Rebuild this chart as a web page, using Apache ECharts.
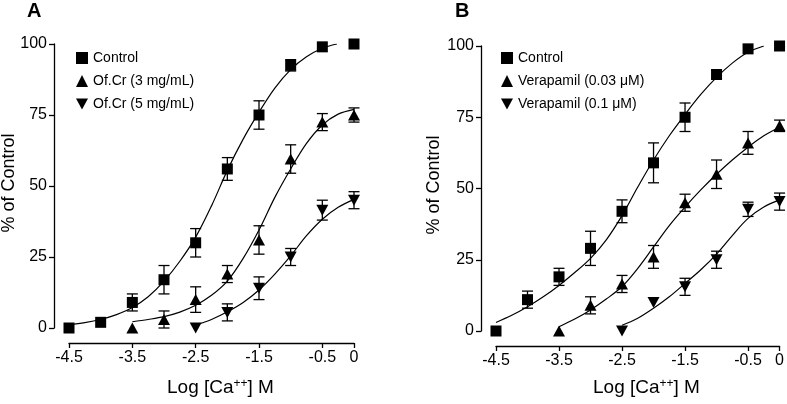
<!DOCTYPE html>
<html>
<head>
<meta charset="utf-8">
<script src="https://cdn.jsdelivr.net/npm/echarts@6/dist/echarts.min.js"></script>
<style>
html,body{margin:0;padding:0;background:#fff;}
#chart{width:787px;height:404px;}
</style>
</head>
<body>
<div id="chart"></div>
<script>
// ---------- data ----------
var xTickLabels = [-4.5, -3.5, -2.5, -1.5, -0.5, 0];
var yTickLabels = [0, 25, 50, 75, 100];

// Panel A
var namesA = ['Control', 'Of.Cr (3 mg/mL)', 'Of.Cr (5 mg/mL)'];
var ctrlAX = [-4.5, -4, -3.5, -3, -2.5, -2, -1.5, -1, -0.5, 0];
var ctrlAY = [0, 2, 9, 17, 30, 56, 75, 92.5, 99, 100];
var ctrlAErr = [0, 0, 3, 5, 5, 4, 5, 2, 0, 0];
var triAX = [-3.5, -3, -2.5, -2, -1.5, -1, -0.5, 0];
var triAY = [0, 3, 10, 19, 31, 59.5, 72.5, 75];
var triAErr = [0, 3, 4.5, 3, 5, 5, 3, 2.5];
var invAX = [-2.5, -2, -1.5, -1, -0.5, 0];
var invAY = [0, 5.5, 14, 25, 41.5, 45];
var invAErr = [0, 3, 4, 3, 3.5, 3];

var ctrlAFitX = [-4.5, -4.25, -4, -3.75, -3.5, -3.25, -3, -2.75, -2.5, -2.25, -2, -1.75, -1.5, -1.25, -1, -0.75, -0.5, -0.27];
var ctrlAFitY = [1.2, 1.9, 3.0, 4.7, 7.2, 11, 16.5, 23.5, 32, 43, 55.5, 66.5, 76, 84.5, 91, 95.5, 98.5, 100];
var triAFitX = [-3.5, -3.25, -3, -2.75, -2.5, -2.25, -2, -1.75, -1.5, -1.25, -1, -0.75, -0.5, -0.25, 0];
var triAFitY = [2.2, 3.0, 4.0, 5.6, 8.0, 11.5, 16.5, 24.5, 34.5, 46, 56, 65, 71.5, 75.3, 77];
var invAFitX = [-2.5, -2.25, -2, -1.75, -1.5, -1.25, -1, -0.75, -0.5, -0.25, 0];
var invAFitY = [1.0, 3, 5.7, 9, 13.4, 19, 25.4, 32.5, 38.3, 42.5, 45.3];

// Panel B
var namesB = ['Control', 'Verapamil (0.03 \u03bcM)', 'Verapamil (0.1 \u03bcM)'];
var ctrlBX = [-4.5, -4, -3.5, -3, -2.5, -2, -1.5, -1, -0.5, 0];
var ctrlBY = [0, 11, 19, 29, 42, 59, 75, 90, 99, 100];
var ctrlBErr = [0, 3, 3, 6, 4, 7, 5, 1.5, 0, 0];
var triBX = [-3.5, -3, -2.5, -2, -1.5, -1, -0.5, 0];
var triBY = [0, 9, 16.5, 26, 45, 55, 66, 72];
var triBErr = [0, 3, 3, 4, 3, 5, 4, 2];
var invBX = [-2.5, -2, -1.5, -1, -0.5, 0];
var invBY = [0, 10, 15.5, 25, 42.7, 45.4];
var invBErr = [0, 0, 3, 3, 2.5, 3];

var ctrlBFitX = [-4.5, -4.25, -4, -3.75, -3.5, -3.25, -3, -2.75, -2.5, -2.25, -2, -1.75, -1.5, -1.25, -1, -0.75, -0.5, -0.25];
var ctrlBFitY = [3, 5.5, 8.5, 12, 16, 20.5, 25.5, 32, 40.5, 50.5, 60, 68.5, 76, 83, 89, 94, 97.8, 100];
var triBFitX = [-3.5, -3.25, -3, -2.75, -2.5, -2.25, -2, -1.75, -1.5, -1.25, -1, -0.75, -0.5, -0.25, 0];
var triBFitY = [1.5, 4.2, 7.4, 11.2, 15.6, 22, 29.5, 37, 43.5, 49.5, 55, 60, 64.5, 68.5, 71.5];
var invBFitX = [-2.5, -2.25, -2, -1.75, -1.5, -1.25, -1, -0.75, -0.5, -0.25, 0];
var invBFitY = [2.0, 4.5, 8, 12, 16.7, 21.5, 27, 33.5, 39.5, 43.5, 46];

// ---------- helpers ----------
var FONT = "'Liberation Sans', Arial, Helvetica, sans-serif";
var INV_TRI = 'path://M0,0L20,0L10,18Z';
function pairs(xs, ys) { return xs.map(function (x, i) { return [x, ys[i]]; }); }
function triples(xs, ys, es) { return xs.map(function (x, i) { return [x, ys[i], es[i]]; }); }

function errRender(params, api) {
  var x = api.value(0), y = api.value(1), e = api.value(2);
  if (!e) return null;
  var t = api.coord([x, y + e]), b = api.coord([x, y - e]);
  var hw = 5.5, st = { stroke: '#000', lineWidth: 1.3 };
  return { type: 'group', children: [
    { type: 'line', shape: { x1: t[0], y1: t[1], x2: b[0], y2: b[1] }, style: st },
    { type: 'line', shape: { x1: t[0] - hw, y1: t[1], x2: t[0] + hw, y2: t[1] }, style: st },
    { type: 'line', shape: { x1: b[0] - hw, y1: b[1], x2: b[0] + hw, y2: b[1] }, style: st }
  ] };
}

function scatter(name, idx, xs, ys, symbol, size) {
  return { type: 'scatter', name: name, xAxisIndex: idx, yAxisIndex: idx, data: pairs(xs, ys),
    symbol: symbol, symbolSize: size, itemStyle: { color: '#000', opacity: 1 }, z: 5, silent: true };
}
function errs(idx, xs, ys, es) {
  return { type: 'custom', xAxisIndex: idx, yAxisIndex: idx, data: triples(xs, ys, es),
    encode: { x: 0, y: 1 }, renderItem: errRender, z: 4, silent: true };
}
function fit(idx, xs, ys) {
  return { type: 'line', xAxisIndex: idx, yAxisIndex: idx, data: pairs(xs, ys), smooth: 0.35,
    symbol: 'none', lineStyle: { color: '#000', width: 1.2 }, z: 3, silent: true };
}

function xAxisCfg(idx) {
  return { type: 'value', gridIndex: idx, min: -4.5, max: 0, offset: 15, position: 'bottom',
    axisLine: { show: true, onZero: false, lineStyle: { color: '#000', width: 1.3 } },
    axisTick: { show: true, length: 5, customValues: xTickLabels, lineStyle: { color: '#000', width: 1.3 } },
    axisLabel: { customValues: xTickLabels, color: '#000', fontSize: 16, fontFamily: FONT, margin: 7 },
    splitLine: { show: false } };
}
function yAxisCfg(idx) {
  return { type: 'value', gridIndex: idx, min: 0, max: 100, interval: 25, offset: 15, position: 'left',
    axisLine: { show: true, onZero: false, lineStyle: { color: '#000', width: 1.3 } },
    axisTick: { show: true, length: 5, lineStyle: { color: '#000', width: 1.3 } },
    axisLabel: { color: '#000', fontSize: 16, fontFamily: FONT, margin: 7 },
    splitLine: { show: false } };
}
function legendCfg(names, left) {
  return { data: names, orient: 'vertical', left: left, top: 46, itemWidth: 12, itemHeight: 12,
    itemGap: 9, selectedMode: false,
    textStyle: { fontSize: 14, color: '#000', fontFamily: FONT } };
}
function xTitle(cx) {
  return { type: 'text', left: cx - 55, top: 378, style: {
    text: 'Log [Ca{sup|++}] M', fontSize: 19, fontFamily: FONT, fill: '#000',
    rich: { sup: { fontSize: 12, fontFamily: FONT, fill: '#000', verticalAlign: 'top', lineHeight: 8, padding: [0, 0, 6, 0] } } } };
}
function yTitle(cx, cy) {
  return { type: 'text', x: cx, y: cy, rotation: Math.PI / 2, style: {
    text: '% of Control', fontSize: 18, fontFamily: FONT, fill: '#000', align: 'center', verticalAlign: 'middle' } };
}

var option = {
  animation: false,
  backgroundColor: '#fff',
  grid: [
    { left: 69, top: 44, width: 285, height: 284 },
    { left: 496, top: 46, width: 285, height: 285 }
  ],
  xAxis: [xAxisCfg(0), xAxisCfg(1)],
  yAxis: [yAxisCfg(0), yAxisCfg(1)],
  legend: [legendCfg(namesA, 71), legendCfg(namesB, 496)],
  graphic: [
    { type: 'text', left: 27, top: 1, style: { text: 'A', fontSize: 20, fontWeight: 'bold', fontFamily: FONT, fill: '#000' } },
    { type: 'text', left: 455, top: 1, style: { text: 'B', fontSize: 20, fontWeight: 'bold', fontFamily: FONT, fill: '#000' } },
    xTitle(222), xTitle(648),
    yTitle(9, 183), yTitle(434, 185)
  ],
  series: [
    fit(0, ctrlAFitX, ctrlAFitY), fit(0, triAFitX, triAFitY), fit(0, invAFitX, invAFitY),
    errs(0, ctrlAX, ctrlAY, ctrlAErr), errs(0, triAX, triAY, triAErr), errs(0, invAX, invAY, invAErr),
    scatter(namesA[0], 0, ctrlAX, ctrlAY, 'rect', 11),
    scatter(namesA[1], 0, triAX, triAY, 'triangle', [12, 11]),
    scatter(namesA[2], 0, invAX, invAY, INV_TRI, [12, 11]),
    fit(1, ctrlBFitX, ctrlBFitY), fit(1, triBFitX, triBFitY), fit(1, invBFitX, invBFitY),
    errs(1, ctrlBX, ctrlBY, ctrlBErr), errs(1, triBX, triBY, triBErr), errs(1, invBX, invBY, invBErr),
    scatter(namesB[0], 1, ctrlBX, ctrlBY, 'rect', 11),
    scatter(namesB[1], 1, triBX, triBY, 'triangle', [12, 11]),
    scatter(namesB[2], 1, invBX, invBY, INV_TRI, [12, 11])
  ]
};
var chart = echarts.init(document.getElementById('chart'), null, { renderer: 'canvas' });
chart.setOption(option);
</script>
</body>
</html>
